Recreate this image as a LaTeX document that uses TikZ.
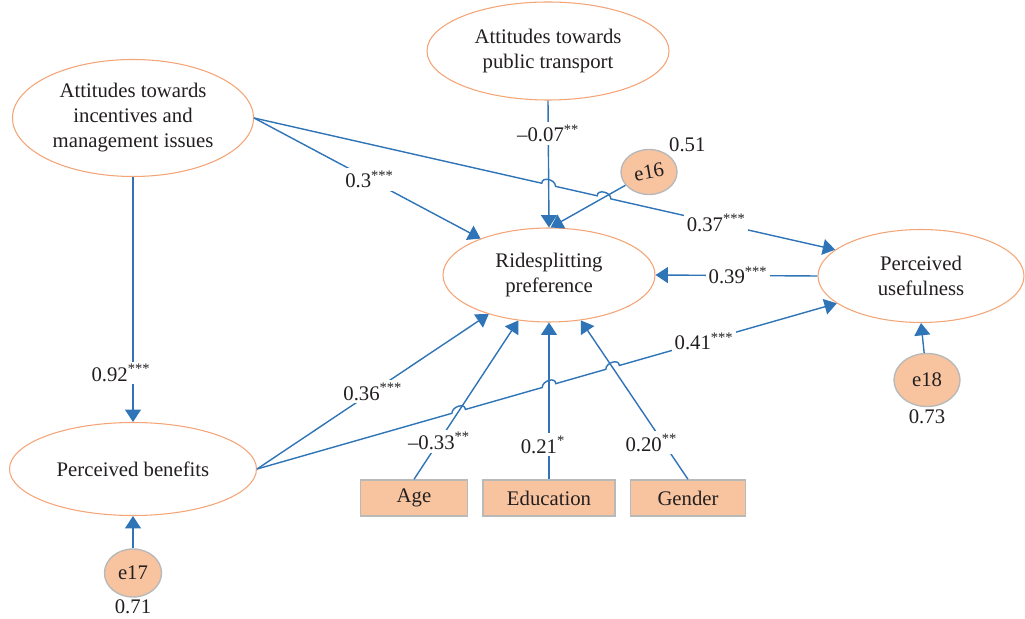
\documentclass[tikz,border=0pt]{standalone}
\usepackage{fontspec}
\setmainfont{Liberation Serif}
\usepackage{tikz}
\usetikzlibrary{arrows.meta}
\usetikzlibrary{shapes.geometric}
\usetikzlibrary{calc}
\usetikzlibrary{intersections}
\definecolor{pathblue}{RGB}{46,116,182}
\definecolor{latentline}{RGB}{244,164,118}
\definecolor{peach}{RGB}{248,196,160}
\definecolor{errline}{RGB}{185,185,185}
\definecolor{txt}{RGB}{35,31,32}
\newcommand{\sig}[1]{\textsuperscript{#1}}

\begin{document}
\begin{tikzpicture}[x=0.2mm, y=-0.2mm, font=\fontsize{11.8}{14.2}\selectfont, text=txt]

\tikzstyle{latent} = [ellipse, draw=latentline, line width=0.6pt, fill=white, inner sep=0pt, align=center]
\tikzstyle{error} = [ellipse, draw=errline, line width=0.8pt, fill=peach, inner sep=0pt, minimum width=11.4mm, minimum height=9.6mm]
\tikzstyle{observed} = [rectangle, draw=errline, line width=0.8pt, fill=peach, minimum height=7.2mm]
\tikzstyle{effect} = [draw=pathblue, line width=0.8pt, -{Triangle[length=7pt,width=9pt]}]
\tikzstyle{coef} = [fill=white, inner sep=1.5pt]

\useasboundingbox (0,0) rectangle (1025,619);

\node[latent, minimum width=48.2mm, minimum height=23.4mm] (1) at (133,118) {Attitudes towards\\incentives and\\management issues};
\node[latent, minimum width=48.4mm, minimum height=19.6mm] (2) at (548,51) {Attitudes towards\\public transport};
\node[latent, minimum width=42.4mm, minimum height=18.8mm] (3) at (549,275) {Ridesplitting\\preference};
\node[latent, minimum width=41.2mm, minimum height=18.6mm] (4) at (921,276) {Perceived\\usefulness};
\node[latent, minimum width=49.4mm, minimum height=18.6mm] (5) at (133,469) {Perceived benefits};

\node[error, minimum width=11.2mm, minimum height=9mm, label={[inner sep=1pt]45:0.51}] (6) at (649,172) {\rotatebox{10}{e16}};
\node[error, label={[inner sep=1pt]below:0.71}] (7) at (133,573) {e17};
\node[error, minimum width=13.2mm, minimum height=10.6mm, label={[inner sep=1pt]below:0.73}] (8) at (927,380) {e18};

\node[observed, minimum width=21.4mm] (9) at (414,498) {Age};
\node[observed, minimum width=26.4mm] (10) at (549,498) {Education};
\node[observed, minimum width=23mm] (11) at (688,498) {Gender};

% crossings
\path[name path=p37] (1.east) -- (4.163);
\path[name path=p07] (2.south) -- (3.north);
\path[name path=p16] (6) -- (3.88);
\path[name path=p41] (5.east) -- (4.198);
\path[name path=p33] (9.north) -- (3.236);
\path[name path=p21] (10.north) -- (3.south);
\path[name path=p20] (11.north) -- (3.305);
\path[name intersections={of=p37 and p07, by=x1}];
\path[name intersections={of=p37 and p16, by=x2}];
\path[name intersections={of=p41 and p33, by=x3}];
\path[name intersections={of=p41 and p21, by=x4}];
\path[name intersections={of=p41 and p20, by=x5}];

\draw[effect] (1.east) -- ($(x1)!4pt!(1.east)$) .. controls +(0,-7) and +(0,-7) .. ($(x1)!4pt!(4.163)$)
  -- ($(x2)!4pt!(1.east)$) .. controls +(0,-7) and +(0,-7) .. ($(x2)!4pt!(4.163)$)
  -- node[coef, pos=0.47] {0.37\sig{***}} (4.163);
\draw[effect] (5.east) -- ($(x3)!4pt!(5.east)$) .. controls +(0,-7) and +(0,-7) .. ($(x3)!4pt!(4.198)$)
  -- ($(x4)!4pt!(5.east)$) .. controls +(0,-7) and +(0,-7) .. ($(x4)!4pt!(4.198)$)
  -- ($(x5)!4pt!(5.east)$) .. controls +(0,-7) and +(0,-7) .. ($(x5)!4pt!(4.198)$)
  -- node[coef, pos=0.39] {0.41\sig{***}} (4.198);

\draw[effect] (1.east) -- node[coef, pos=0.51] {0.3\sig{***}} (3);
\draw[effect] (2.south) -- node[coef, pos=0.26] {--0.07\sig{**}} (3.north);
\draw[effect] (6) -- (3.88);
\draw[effect] (4.west) -- node[coef, pos=0.49] {0.39\sig{***}} (3.east);
\draw[effect] (1.south) -- node[coef, pos=0.8, xshift=-2.4mm] {0.92\sig{***}} (5.north);
\draw[effect] (5.east) -- node[coef, pos=0.5] {0.36\sig{***}} (3.213);
\draw[effect] (9.north) -- node[coef, pos=0.24] {--0.33\sig{**}} (3.236);
\draw[effect] (10.north) -- node[coef, pos=0.22, xshift=-1.2mm] {0.21\sig{*}} (3.south);
\draw[effect] (11.north) -- node[coef, pos=0.23, xshift=-2.4mm] {0.20\sig{**}} (3.305);

\draw[effect] (7) -- (5.south);
\draw[effect] (8) -- (4.south);
\end{tikzpicture}
\end{document}
